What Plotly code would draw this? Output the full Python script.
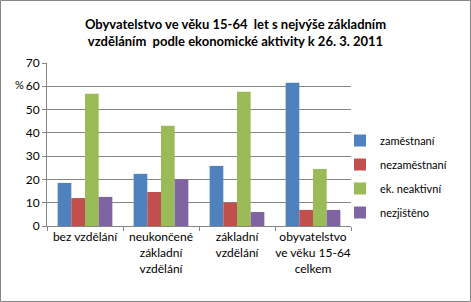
import plotly.graph_objects as go

categories = ["bez vzdělání", "neukončené<br>základní<br>vzdělání", "základní<br>vzdělání", "obyvatelstvo<br>ve věku 15-64<br>celkem"]
series_names = ["zaměstnaní", "nezaměstnaní", "ek. neaktivní", "nezjištěno"]
zamestnani = [18.5, 22.4, 25.8, 61.5]
nezamestnani = [12.0, 14.6, 10.0, 6.9]
neaktivni = [56.8, 43.0, 57.7, 24.5]
nezjisteno = [12.5, 20.1, 6.0, 6.9]
colors = ["#4F81BD", "#C0504D", "#9BBB59", "#8064A2"]
y_ticks = [0, 10, 20, 30, 40, 50, 60, 70]

W, H = 471, 302
L, R, T, B = 47, 120, 63, 76
pw, ph = W - L - R, H - T - B

FONT = "Lato"
fig = go.Figure()
for name, vals, c in zip(series_names, [zamestnani, nezamestnani, neaktivni, nezjisteno], colors):
    fig.add_trace(go.Bar(x=categories, y=vals, name=name, marker=dict(color=c, line=dict(width=0)),
                         legendgroup=name))

fig.update_layout(
    width=W, height=H,
    margin=dict(l=L, r=R, t=T, b=B, autoexpand=False),
    paper_bgcolor="white", plot_bgcolor="white",
    barmode="group", bargap=0.28, bargroupgap=0,
    font=dict(family=FONT, size=12, color="#000000"),
    title=dict(text="<b>Obyvatelstvo ve věku 15-64  let s nejvýše základním<br>vzděláním  podle ekonomické aktivity k 26. 3. 2011</b>",
               x=0.5, xanchor="center", y=1 - 29 / H, yanchor="middle",
               font=dict(family=FONT, size=13, color="#000000")),
    legend=dict(x=(340 - L) / pw, y=1 - (126 - T) / ph, xanchor="left", yanchor="top",
                font=dict(family=FONT, size=11), traceorder="grouped", tracegroupgap=5,
                itemwidth=30, bgcolor="rgba(0,0,0,0)"),
    xaxis=dict(showline=True, linecolor="#868686", linewidth=1, ticks="outside", tickson="boundaries",
               ticklen=4, tickcolor="#868686", showgrid=False, tickangle=0, automargin=False,
               tickfont=dict(size=12, family=FONT)),
    yaxis=dict(range=[0, 70], tickvals=y_ticks, showline=True, linecolor="#868686", linewidth=1,
               ticks="outside", ticklen=4, tickcolor="#868686", gridcolor="#868686", gridwidth=1,
               zeroline=False, automargin=False, tickfont=dict(size=12, family=FONT)),
    annotations=[dict(text="%", x=(13 - L) / pw, y=1 - (76 - T) / ph, xref="paper", yref="paper",
                      showarrow=False, font=dict(family=FONT, size=11))],
    shapes=[dict(type="rect", xref="paper", yref="paper",
                 x0=(0.5 - L) / pw, x1=(470.5 - L) / pw, y0=1 - (301.5 - T) / ph, y1=1 - (0.5 - T) / ph,
                 line=dict(color="#868686", width=1), fillcolor="rgba(0,0,0,0)", layer="below")],
)

fig.write_html("out.html")
